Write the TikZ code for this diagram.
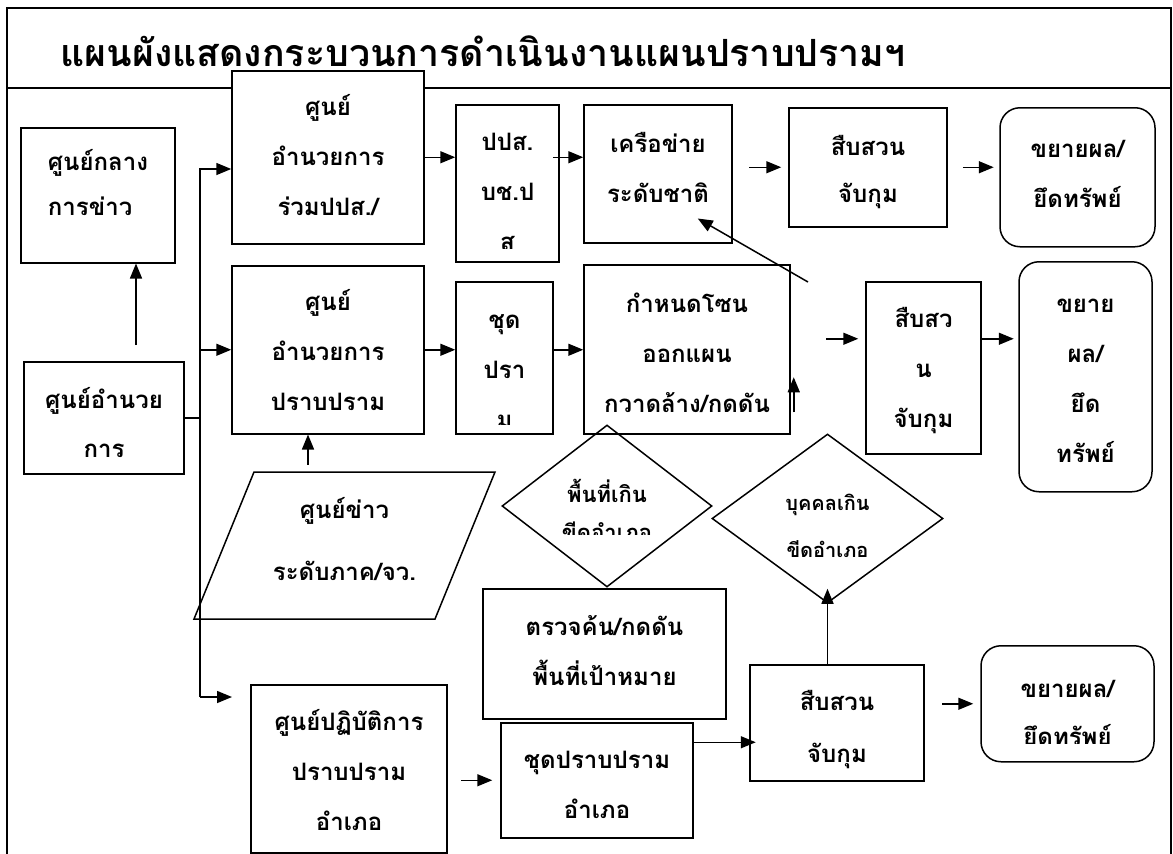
\documentclass[tikz,border=0pt]{standalone}
\usepackage{fontspec}
\setmainfont{Loma}[Script=Thai]
\usepackage{tikz}
\usetikzlibrary{calc, arrows.meta, shapes.geometric}

\begin{document}
\begin{tikzpicture}[x=1pt,y=-1pt,line width=1.5pt,
    box/.style={draw,fill=white,inner sep=0pt,anchor=north,align=center,
        font=\fontsize{24}{50}\selectfont\bfseries},
    rbox/.style={box,rounded corners=20pt},
    dia/.style={draw,diamond,inner sep=0pt},
    txt/.style={inner sep=0pt,anchor=north,align=center,
        font=\fontsize{24}{50}\selectfont\bfseries},
    arr/.style={-{Triangle[length=15pt,width=12pt]}}]
    \useasboundingbox (0,0) rectangle (1173,854);
    % frame and title
    \draw (7,854) -- (7,8) -- (1171,8) -- (1171,854);
    \draw (7,88) -- (1171,88);
    \node [anchor=base,font=\fontsize{37.5}{40}\selectfont\bfseries]
        (TTL) at (483,66) {แผนผังแสดงกระบวนการดำเนินงานแผนปราบปรามฯ};

    % left column
    \node [box,align=left,minimum width=154pt,text height=88pt,text depth=47pt,
        font=\fontsize{24}{45}\selectfont\bfseries]
        (B01) at (98,127) {ศูนย์กลาง\\การข่าว};
    \node [box,minimum width=160pt,text height=96pt,text depth=16pt,
        font=\fontsize{24}{49}\selectfont\bfseries]
        (B02) at (104,361) {ศูนย์อำนวย\\การ};
    \node [box,minimum width=192pt,text height=145pt,text depth=28pt]
        (B03) at (328,70) {ศูนย์\\อำนวยการ\\ร่วมปปส./};
    \node [box,minimum width=192pt,text height=145pt,text depth=23pt]
        (B04) at (328,265) {ศูนย์\\อำนวยการ\\ปราบปราม};
    \node [box,minimum width=196pt,text height=146pt,text depth=22pt]
        (B14) at (349,684) {ศูนย์ปฏิบัติการ\\ปราบปราม\\อำเภอ};

    % narrow boxes, text cut by the box
    \node [box,minimum width=103pt,minimum height=157pt] (B05) at (507.5,104) {};
    \node [box,minimum width=97pt,minimum height=152pt] (B06) at (504.5,281) {};
    \begin{scope}
        \clip (B05.north west) rectangle ($(B05.south east)+(0,-14)$);
        \node [txt,text height=146pt] (T05) at (B05.north) {ปปส.\\บช.ป\\ส};
    \end{scope}
    \begin{scope}
        \clip (B06.north west) rectangle ($(B06.south east)+(0,-10)$);
        \node [txt,text height=147pt] (T06) at (B06.north) {ชุด\\ปรา\\ม};
    \end{scope}

    % middle
    \node [box,minimum width=148pt,text height=98pt,text depth=40pt]
        (B07) at (658,104) {เครือข่าย\\ระดับชาติ};
    \node [box,minimum width=206pt,text height=148pt,text depth=21pt]
        (B08) at (687,264) {กำหนดโซน\\ออกแผน\\กวาดล้าง/กดดัน};
    \node [box,minimum width=243pt,text height=97pt,text depth=33pt]
        (B11) at (604.5,588) {ตรวจค้น/กดดัน\\พื้นที่เป้าหมาย};
    \node [box,minimum width=192pt,text height=96pt,text depth=19pt]
        (B12) at (597,722) {ชุดปราบปราม\\อำเภอ};

    % right
    \node [box,minimum width=158pt,text height=95pt,text depth=24pt,
        font=\fontsize{24}{47}\selectfont\bfseries]
        (B09) at (868,107) {สืบสวน\\จับกุม};
    \node [rbox,minimum width=155pt,text height=100pt,text depth=39pt]
        (R01) at (1077.5,107) {ขยายผล/\\ยึดทรัพย์};
    \node [box,minimum width=115pt,text height=146pt,text depth=26pt]
        (B10) at (923.5,281) {สืบสว\\น\\จับกุม};
    \node [rbox,minimum width=133pt,text height=201pt,text depth=29pt]
        (R02) at (1085.5,261) {ขยาย\\ผล/\\ยึด\\ทรัพย์};
    \node [box,minimum width=174pt,text height=98pt,text depth=18pt,
        font=\fontsize{24}{52}\selectfont\bfseries]
        (B13) at (837,664) {สืบสวน\\จับกุม};
    \node [rbox,minimum width=173pt,minimum height=116pt] (R03) at (1067.5,645) {};
    \begin{scope}
        \clip (R03.north west) rectangle ($(R03.south east)+(0,-19)$);
        \node [txt,text height=100pt,font=\fontsize{24}{48}\selectfont\bfseries]
            (T15) at (R03.north) {ขยายผล/\\ยึดทรัพย์};
    \end{scope}

    % parallelogram
    \draw (254,472) -- (495,472) -- (435,619) -- (194,619) -- cycle;
    \node [txt,text height=110pt,font=\fontsize{24}{62}\selectfont\bfseries]
        (P01) at (344.5,470) {ศูนย์ข่าว\\ระดับภาค/จว.};

    % diamonds
    \node [dia,minimum width=210pt,minimum height=162pt] (D01) at (607,506) {};
    \node [dia,minimum width=231pt,minimum height=169pt] (D02) at (827.5,518.5) {};
    \begin{scope}
        \clip ($(D01.west)+(0,-60)$) rectangle ($(D01.east)+(0,28)$);
        \node [txt,text height=80pt,font=\fontsize{22}{38}\selectfont\bfseries]
            (TD1) at (607,460) {พื้นที่เกิน\\ขีดอำเภอ};
    \end{scope}
    \node [txt,text height=87pt,font=\fontsize{20}{47}\selectfont\bfseries]
        (TD2) at (827.5,470) {บุคคลเกิน\\ขีดอำเภอ};

    % connectors
    \coordinate (a01) at (136,345);
    \coordinate (t01) at (200,169);
    \coordinate (t02) at (200,697);
    \coordinate (a07) at (808,282);
    \draw [arr] (a01) -- (a01 |- B01.south);
    \draw (B02.east) -- (B02.east -| t01);
    \draw [arr] (t02) -- (t01) -- (t01 -| B03.west);
    \draw [arr] (t01 |- B04.west) -- (B04.west);
    \draw [arr] (t02) -- ($(t02)+(32,0)$);
    \draw [arr] (B03.east) -- (B03.east -| B05.west);
    \draw [arr] ($(B03.east -| B05.east)+(-7,0)$) -- (B03.east -| B07.west);
    \draw [arr] ($(B09.west)+(-39,0)$) -- ($(B09.west)+(-7,0)$);
    \draw [arr] ($(B09.east)+(15,0)$) -- ($(B09.east)+(46,0)$);
    \draw [arr] (a07) -- ($(B07.south east)+(-35,-25)$);
    \draw [arr] (B04.east) -- (B04.east -| B06.west);
    \draw [arr] (B04.east -| B06.east) -- (B04.east -| B08.west);
    \draw [arr] ($(B10.west)+(-39,-29)$) -- ($(B10.west)+(-7,-29)$);
    \draw [arr] ($(B10.east)+(0,-29)$) -- ($(B10.east)+(32,-29)$);
    \draw [arr] ($(B08.east)+(3,63)$) -- ($(B08.east)+(3,28)$);
    \draw [arr] ($(B04.south)+(-20,30)$) -- ($(B04.south)+(-20,0)$);
    \draw [arr] ($(B12.west)+(-39,0)$) -- ($(B12.west)+(-8,0)$);
    \draw [arr] ($(B12.east)+(0,-38)$) -- ($(B12.east)+(62,-38)$);
    \draw [arr] (D02.south |- B13.north) -- ($(D02.south)+(0,-15)$);
    \draw [arr] ($(R03.west)+(-38,0)$) -- ($(R03.west)+(-7,0)$);
\end{tikzpicture}
\end{document}
